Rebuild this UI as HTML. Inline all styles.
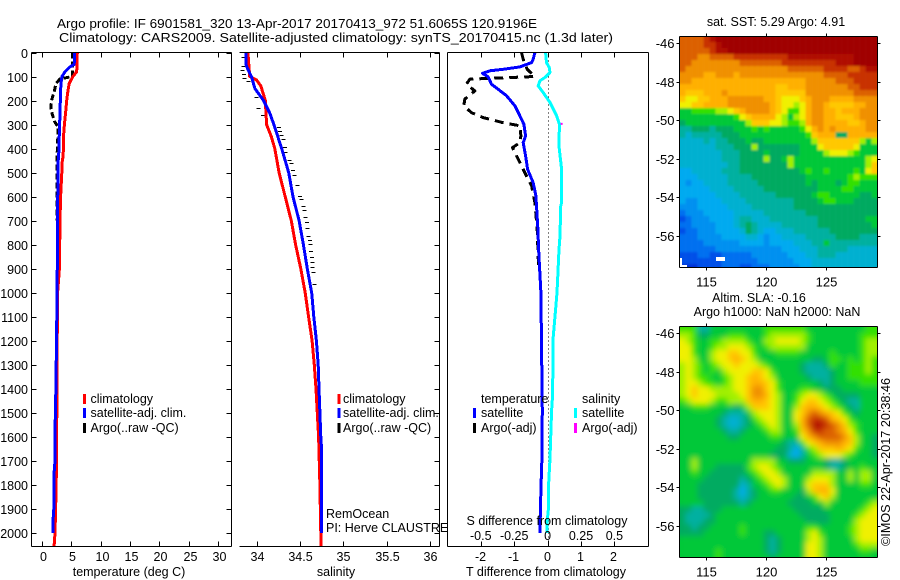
<!DOCTYPE html>
<html>
<head>
<meta charset="utf-8">
<title>Argo profile</title>
<style>
html,body{margin:0;padding:0;background:#fff;width:900px;height:580px;overflow:hidden}
svg{display:block}
text{font-family:"Liberation Sans",sans-serif;font-size:12.5px;fill:#000}
.line{fill:none;shape-rendering:crispEdges;stroke-linejoin:round}
.ax{stroke:#000;stroke-width:1;fill:none;shape-rendering:crispEdges}
</style>
</head>
<body>
<svg id="fig" xmlns="http://www.w3.org/2000/svg" width="900" height="580" viewBox="0 0 900 580">
<defs>
<clipPath id="clipMap1"><rect x="679.5" y="36" width="198" height="231"/></clipPath>
<clipPath id="clipMap2"><rect x="679.5" y="326" width="198" height="231"/></clipPath>
<clipPath id="clipT"><rect x="32" y="52" width="199" height="494"/></clipPath>
<clipPath id="clipS"><rect x="239" y="52" width="200" height="494"/></clipPath>
<clipPath id="clipD"><rect x="448" y="52" width="201" height="494"/></clipPath>
<filter id="blurSST" filterUnits="userSpaceOnUse" x="640" y="0" width="260" height="300"><feGaussianBlur stdDeviation="1"/></filter>
<filter id="blurSLA" filterUnits="userSpaceOnUse" x="640" y="290" width="260" height="290"><feGaussianBlur stdDeviation="3"/></filter>
</defs>

<text x="57" y="28" textLength="480" lengthAdjust="spacingAndGlyphs">Argo profile: IF 6901581_320 13-Apr-2017 20170413_972 51.6065S 120.9196E</text>
<text x="59" y="42" textLength="554" lengthAdjust="spacingAndGlyphs">Climatology: CARS2009. Satellite-adjusted climatology: synTS_20170415.nc (1.3d later)</text>

<g id="panelT"></g>
<g id="panelS"></g>
<g id="panelD"></g>

<text x="129" y="576" text-anchor="middle">temperature (deg C)</text>
<text x="336" y="576" text-anchor="middle">salinity</text>
<text x="546" y="576" text-anchor="middle">T difference from climatology</text>
<text x="547" y="525" text-anchor="middle">S difference from climatology</text>

<g>
<rect x="83" y="394" width="3" height="10" fill="#ff0000"/>
<rect x="83" y="408" width="3" height="10" fill="#0000ff"/>
<rect x="83" y="423" width="3" height="10" fill="#000"/>
<text x="90.5" y="403">climatology</text>
<text x="90.5" y="417">satellite-adj. clim.</text>
<text x="90.5" y="432">Argo(..raw -QC)</text>
</g>
<g>
<rect x="337.5" y="394" width="3" height="10" fill="#ff0000"/>
<rect x="337.5" y="408" width="3" height="10" fill="#0000ff"/>
<rect x="337.5" y="423" width="3" height="10" fill="#000"/>
<text x="343" y="403">climatology</text>
<text x="343" y="417">satellite-adj. clim.</text>
<text x="343" y="432">Argo(..raw -QC)</text>
<text x="326" y="518">RemOcean</text>
<text x="326" y="532">PI: Herve CLAUSTRE</text>
</g>
<g>
<text x="481" y="403">temperature</text>
<rect x="473" y="408" width="3" height="10" fill="#0000ff"/>
<rect x="473" y="423" width="3" height="10" fill="#000"/>
<text x="481" y="417">satellite</text>
<text x="481" y="432">Argo(-adj)</text>
<text x="582" y="403">salinity</text>
<rect x="574" y="408" width="3" height="10" fill="#00ffff"/>
<rect x="574" y="423" width="3" height="10" fill="#ff00ff"/>
<text x="582" y="417">satellite</text>
<text x="582" y="432">Argo(-adj)</text>
</g>

<g clip-path="url(#clipMap1)"><g id="mapSST" filter="url(#blurSST)"></g></g>
<g clip-path="url(#clipMap2)"><g id="mapSLA" filter="url(#blurSLA)"></g></g>
<g id="map1Axes"></g>
<g id="map2Axes"></g>
<rect x="716" y="257" width="9" height="4" fill="#fff"/>
<path d="M681 258V266H687" stroke="#fff" stroke-width="2" fill="none" shape-rendering="crispEdges"/>

<text x="776" y="26" text-anchor="middle">sat. SST: 5.29 Argo: 4.91</text>
<text x="759" y="302" text-anchor="middle">Altim. SLA: -0.16</text>
<text x="777" y="316" text-anchor="middle">Argo h1000: NaN h2000: NaN</text>
<text transform="translate(890,546) rotate(-90)" textLength="168" lengthAdjust="spacingAndGlyphs">©IMOS 22-Apr-2017 20:38:46</text>
</svg>

<script>
// ---- profile data ----
const depthTicks = [0,100,200,300,400,500,600,700,800,900,1000,1100,1200,1300,1400,1500,1600,1700,1800,1900,2000];
const tempTicks = [0,5,10,15,20,25,30];
const salTicks = [34,34.5,35,35.5,36];
const salTickLabels = ['34','34.5','35','35.5','36'];
const tDiffTicks = [-2,-1,0,1,2];
const sDiffTicks = [-0.5,-0.25,0,0.25,0.5];
const sDiffTickLabels = ['-0.5','-0.25','0','0.25','0.5'];

const tempClimDepth = [0,80,100,130,170,200,250,300,350,430,450,500,550,600,700,800,900,1000,1400,1500,1800,2000,2054];
const tempClimValue = [5.85,5.75,5.1,4.45,4.2,4.05,3.85,3.65,3.5,3.45,3.3,3.2,3.1,3.0,2.9,2.85,2.8,2.5,2.35,2.35,2.25,2.05,1.9];
const tempSatDepth = [0,30,50,60,80,100,130,200,270,300,400,450,500,700,1000,1400,1500,1700,1750,1900,1950,2000];
const tempSatValue = [5.4,5.4,5.3,4.6,3.75,3.25,3.05,2.95,2.9,2.8,2.75,2.6,2.55,2.5,2.4,2.2,2.1,2.05,1.9,1.85,1.7,1.7];
const tempArgoDepth = [0,50,100,105,110,130,160,200,230,260,290,310,400,450,500,700];
const tempArgoValue = [5.0,5.0,5.0,4.0,2.9,2.2,1.95,1.45,1.35,1.6,2.05,2.6,2.45,2.35,2.4,2.4];

const salClimDepth = [0,100,115,140,200,300,350,400,500,600,700,800,900,1000,1100,1200,1300,1400,1500,1600,1800,2000,2054];
const salClimValue = [33.9,33.92,34.0,34.05,34.1,34.115,34.17,34.21,34.26,34.33,34.4,34.45,34.51,34.56,34.6,34.64,34.665,34.685,34.7,34.715,34.73,34.74,34.745];
const salSatDepth = [0,50,70,100,150,200,250,300,400,500,600,700,800,900,1000,1100,1200,1300,1400,1500,1600,1650,2000];
const salSatValue = [33.877,33.877,33.9,33.94,33.98,34.08,34.15,34.2,34.29,34.37,34.42,34.49,34.54,34.585,34.635,34.66,34.69,34.71,34.72,34.73,34.74,34.75,34.75];
const salArgoDepth = [18,57,71,90,108,118,185,229,261,312,326,344,360,393,414,446,460,490,511,550,599,611,640,657,685,706,729,763,779,796,826,851,872,893,914,962];
const salArgoValue = [33.85,33.85,33.84,33.855,33.86,33.905,34.0,34.02,34.075,34.26,34.27,34.29,34.31,34.33,34.335,34.38,34.4,34.42,34.44,34.47,34.5,34.52,34.54,34.55,34.565,34.58,34.585,34.6,34.615,34.62,34.63,34.64,34.645,34.645,34.655,34.665];

const dTSatDepth = [0,28,42,60,70,76,87,101,132,153,180,222,264,299,347,375,430,486,542,597,736,819,1000,1490,1690,1821,2000];
const dTSatValue = [-0.38,-0.43,-0.48,-0.83,-1.33,-1.73,-1.95,-1.78,-1.68,-1.48,-1.23,-0.98,-0.83,-0.71,-0.66,-0.73,-0.66,-0.6,-0.43,-0.35,-0.29,-0.27,-0.2,-0.16,-0.17,-0.2,-0.23];
const dTArgoDepth = [0,28,70,100,111,132,160,194,222,250,271,292,305,347,375,396,424,458,486,520,555,625,736,900];
const dTArgoValue = [-0.78,-0.73,-0.61,-0.38,-2.33,-2.43,-2.18,-2.48,-2.51,-2.28,-1.93,-1.33,-0.83,-0.8,-0.83,-1.05,-0.95,-0.83,-0.73,-0.61,-0.48,-0.38,-0.31,-0.27];
const dSSatDepth = [0,42,62,83,104,118,139,167,208,264,299,390,486,625,640,764,819,1000,1200,1420,1490,1600,1690,1790,1900,1950,2000];
const dSSatValue = [-0.015,-0.008,0.012,0.018,-0.02,-0.058,-0.07,-0.033,0.018,0.068,0.088,0.085,0.105,0.105,0.098,0.093,0.085,0.07,0.04,0.038,0.03,0.023,0.018,0.008,0.006,-0.003,-0.003];
const dSArgoDepth = [297];
const dSArgoValue = [0.105];

// ---- map data (colour-level grid, 33 lon x 39 lat) ----
const mapTicksLon = [115,120,125];
const mapTicksLat = [46,48,50,52,54,56];
const sstGrid = [
[17,17,17,17,18,19,20,20,20,20,20,20,20,20,20,20,20,20,20,20,20,20,20,20,20,20,20,20,20,20,20,20,20],
[17,17,17,17,18,18,19,20,20,20,20,20,20,20,20,20,20,20,20,20,20,20,20,20,20,20,20,20,20,20,20,20,20],
[17,17,17,17,17,18,19,19,20,20,20,20,20,20,20,20,20,20,20,20,20,20,20,20,20,20,20,20,20,20,20,20,20],
[17,17,17,16,16,17,17,17,17,18,18,18,18,18,18,18,18,18,19,19,19,19,19,19,19,19,19,19,19,20,20,20,20],
[17,17,16,16,16,16,16,16,16,16,17,17,17,17,17,17,17,18,18,18,18,18,18,18,18,18,19,19,19,20,20,20,20],
[17,16,16,16,16,16,16,16,16,16,16,16,16,16,16,16,16,16,17,17,17,17,17,17,18,18,18,18,17,17,18,19,19],
[16,16,16,16,15,15,16,16,16,15,16,16,16,16,16,16,16,16,16,16,16,16,16,16,17,17,17,17,18,18,18,18,18],
[16,16,15,15,15,15,15,15,15,15,15,15,15,15,15,15,15,15,15,15,15,16,16,16,16,16,17,17,17,18,18,18,18],
[15,15,15,15,15,15,15,15,15,15,15,15,15,15,15,15,14,14,15,15,15,16,16,16,16,16,16,16,17,17,18,18,18],
[15,14,14,14,15,15,15,16,15,15,15,15,15,15,15,15,14,14,14,14,14,16,16,16,16,16,16,16,16,17,17,17,17],
[14,13,13,14,14,15,15,15,16,16,16,16,16,16,15,15,14,13,13,13,14,15,16,16,16,15,15,15,15,16,16,16,16],
[13,13,14,14,15,15,15,15,16,16,16,16,16,16,16,15,14,13,13,12,13,15,16,16,15,14,14,14,14,15,15,16,16],
[10,10,11,11,11,11,12,12,13,14,15,16,16,16,16,15,14,13,11,11,13,15,16,16,15,15,14,15,15,15,16,16,16],
[10,10,10,10,10,10,10,10,10,11,13,14,15,15,15,15,13,12,10,12,13,15,16,16,15,15,14,14,14,15,16,16,16],
[9,10,10,10,10,10,10,10,10,10,10,12,14,14,14,13,13,12,11,11,12,15,16,16,15,15,15,15,14,14,15,16,16],
[8,8,9,9,9,8,9,9,9,10,10,10,11,10,11,10,10,10,10,10,11,13,15,16,15,16,15,15,15,15,15,16,16],
[8,7,8,8,8,8,8,9,9,9,10,10,10,10,10,10,10,10,10,10,10,11,14,15,15,15,9,9,15,15,15,15,15],
[7,7,7,7,8,7,8,8,9,9,9,10,9,9,10,10,10,10,10,10,10,10,12,14,14,14,14,14,14,14,12,10,12],
[7,7,7,7,7,7,8,8,8,9,9,9,12,9,9,9,9,9,9,9,10,10,10,13,14,14,14,14,14,13,10,10,10],
[7,7,7,7,7,7,7,8,8,8,9,9,9,9,10,9,9,9,9,9,10,10,10,10,12,13,13,13,12,11,10,10,10],
[7,7,7,7,7,7,7,8,8,8,9,9,9,9,12,9,9,10,12,10,10,10,10,10,10,10,10,10,10,10,10,12,13],
[7,7,7,7,7,7,7,7,8,8,9,9,9,9,9,9,9,9,12,10,10,10,10,10,10,10,10,10,10,10,10,12,14],
[6,6,7,7,7,7,7,8,8,8,9,9,9,9,9,9,9,9,9,9,10,11,10,10,11,10,10,10,10,11,10,13,14],
[6,6,6,7,7,7,7,7,8,8,8,8,9,9,9,9,9,9,9,9,9,10,10,10,10,10,10,10,11,12,11,11,11],
[6,5,6,6,7,7,7,7,8,8,8,8,8,9,9,9,9,9,9,9,9,10,9,10,10,10,9,10,11,11,10,10,10],
[6,6,6,6,6,7,7,7,7,8,8,8,8,8,9,9,9,9,9,9,9,9,9,10,10,10,10,11,11,10,10,10,10],
[6,6,6,6,6,6,7,7,7,7,8,8,8,8,8,8,9,9,9,9,9,9,10,11,11,10,10,10,10,10,9,9,10],
[6,5,5,6,6,6,6,7,7,7,7,8,8,8,8,8,8,8,8,9,9,9,9,10,11,11,10,10,10,9,9,9,9],
[5,5,5,6,6,6,6,6,7,7,7,7,8,8,8,8,8,8,8,9,9,9,9,9,9,9,9,9,9,9,9,9,9],
[4,5,5,5,6,6,6,6,6,7,7,7,7,7,8,8,8,8,8,8,8,9,9,9,9,9,9,9,9,9,9,9,9],
[3,4,5,5,5,6,6,6,6,7,8,8,7,7,7,8,8,8,8,8,8,8,8,9,9,9,9,9,9,9,9,10,10],
[4,4,5,5,5,5,6,6,6,7,8,9,8,7,7,7,7,8,8,8,8,8,8,9,9,9,9,9,9,9,9,9,10],
[3,4,4,5,5,5,6,6,6,6,7,9,8,7,6,6,7,7,7,8,8,8,8,8,8,9,9,9,9,9,9,9,9],
[4,4,4,5,5,5,5,6,6,6,6,7,7,6,5,6,6,7,7,7,7,8,8,8,8,8,9,9,9,9,8,8,8],
[4,4,4,4,5,5,5,5,5,5,6,6,6,6,5,6,6,6,6,7,7,7,8,8,10,8,8,8,8,8,8,8,8],
[4,4,4,4,4,4,5,5,5,5,5,5,5,5,5,5,5,6,6,6,7,7,7,8,8,8,8,8,7,7,7,7,7],
[3,3,3,4,4,3,3,4,4,4,4,4,5,5,5,5,5,5,6,6,6,7,7,8,8,8,7,7,7,7,7,7,7],
[3,3,3,3,3,3,3,4,4,4,4,4,4,5,5,5,5,5,5,6,6,6,7,7,7,7,7,7,7,7,7,7,7],
[2,2,2,3,3,3,3,4,4,4,3,3,4,4,4,5,5,5,5,5,6,6,7,7,7,7,7,7,7,7,7,7,7]
];
const slaGrid = [
[11,11,11,8,8,10,10,10,10,10,10,10,10,10,11,11,11,11,11,11,11,10,10,10,10,10,10,10,10,10,10,11,11],
[12,12,11,9,9,10,10,10,11,11,11,10,10,10,11,12,12,12,12,12,12,11,10,10,10,10,10,10,10,10,11,11,11],
[13,12,11,10,10,11,11,12,12,12,12,11,10,10,12,12,13,13,13,13,12,11,10,10,10,10,10,10,10,10,11,12,12],
[13,13,11,10,10,11,12,12,13,13,13,12,11,10,11,12,12,12,12,12,12,10,10,10,10,10,10,10,10,10,11,12,12],
[13,13,11,10,10,12,13,13,14,14,13,13,11,10,10,10,11,11,11,11,10,10,10,10,10,11,10,10,10,10,11,12,12],
[13,13,12,10,10,12,13,13,14,15,14,13,12,10,10,10,10,10,10,10,10,10,9,9,10,11,11,10,11,10,11,12,11],
[12,13,12,11,10,11,12,13,13,14,13,13,13,12,11,10,10,10,10,10,9,8,8,8,9,11,10,10,11,11,11,12,11],
[12,13,12,11,10,11,10,12,13,13,13,13,14,14,13,11,10,10,10,10,9,8,8,8,8,9,10,10,11,11,11,12,11],
[12,13,12,11,11,10,10,11,12,13,13,14,15,14,13,12,10,10,10,10,10,9,8,8,8,9,10,10,11,11,11,11,11],
[12,13,13,12,11,11,10,11,12,13,13,14,15,15,14,13,11,10,10,10,10,10,10,9,8,9,10,10,10,10,11,11,11],
[12,13,14,13,13,12,12,12,12,13,13,14,16,16,14,13,11,10,10,10,11,11,10,10,9,9,9,10,10,10,10,10,10],
[12,13,14,13,13,13,12,12,12,12,13,14,16,16,15,13,12,10,10,11,12,13,13,12,11,10,9,9,9,9,10,10,10],
[11,12,13,13,13,12,11,11,12,12,12,14,15,15,14,13,12,10,10,11,13,14,14,13,12,11,10,9,8,8,10,10,10],
[10,10,11,11,11,10,10,10,10,9,10,12,14,14,14,13,12,10,10,12,14,15,15,14,13,12,11,10,9,8,10,10,10],
[10,10,10,10,10,10,10,9,8,8,8,10,12,13,13,13,12,10,10,13,14,16,17,16,15,14,13,11,10,9,10,10,10],
[10,10,10,10,10,10,9,8,7,7,8,9,11,12,13,13,12,10,10,13,15,17,18,18,17,15,14,13,11,10,10,10,10],
[10,10,10,10,10,10,9,8,7,7,8,9,10,11,12,13,12,10,10,12,15,17,19,19,18,17,16,14,12,11,10,10,10],
[10,10,10,10,10,10,10,9,8,8,9,10,10,10,11,12,12,10,10,11,14,16,18,18,17,17,16,15,13,11,10,10,10],
[10,10,10,10,10,10,10,10,9,9,10,10,10,10,10,11,11,10,10,10,13,15,16,17,17,17,17,16,14,12,10,10,9],
[10,10,10,10,10,10,10,10,10,10,10,10,10,10,10,10,10,9,8,8,11,13,14,15,16,16,16,15,14,12,10,10,9],
[10,10,10,10,10,10,10,10,10,10,10,10,10,10,10,10,9,9,8,6,8,11,12,14,14,14,15,14,13,11,10,10,9],
[10,10,10,10,10,10,10,10,10,10,10,10,10,10,10,9,9,9,7,6,8,10,11,12,13,13,13,12,11,10,10,10,9],
[10,10,12,10,10,10,10,10,10,10,10,10,12,12,12,12,10,10,9,9,9,10,10,10,9,8,8,9,10,10,10,10,10],
[10,10,12,10,10,10,9,9,9,9,9,11,12,13,13,12,11,10,10,10,10,10,10,10,9,8,8,9,10,10,11,10,10],
[10,10,11,10,10,9,9,9,9,9,9,10,11,12,13,13,12,10,10,10,10,10,12,12,12,12,10,10,12,10,12,12,10],
[10,10,10,10,9,9,9,9,9,9,8,9,10,11,12,13,13,12,10,10,10,12,13,13,13,12,10,10,12,10,12,12,10],
[10,10,10,9,9,9,9,9,9,9,7,8,10,10,11,12,13,12,10,10,10,13,14,14,14,12,10,10,10,10,11,11,10],
[10,10,10,9,9,9,9,9,9,8,6,8,9,10,10,11,11,10,10,10,9,12,14,15,15,13,10,10,10,10,10,10,10],
[10,10,10,9,9,9,9,9,9,8,7,8,9,10,10,10,10,10,10,9,9,10,11,13,14,12,10,10,10,10,10,10,10],
[10,10,10,10,9,9,9,9,9,9,8,9,10,10,10,10,10,10,9,9,9,9,10,10,12,10,10,10,10,10,10,11,12],
[9,9,8,8,9,9,9,10,10,10,10,10,10,10,10,10,10,10,10,9,9,9,9,9,10,10,10,10,10,10,11,12,13],
[9,8,8,8,8,9,10,10,10,10,10,10,10,10,10,10,10,10,10,10,9,9,9,9,9,10,10,10,10,11,12,13,13],
[9,8,8,8,9,9,10,10,10,10,10,10,10,10,10,10,10,10,10,10,10,9,9,9,9,10,10,10,10,12,13,13,13],
[9,9,8,9,9,10,10,10,10,10,11,10,10,10,10,10,10,10,10,10,10,11,11,10,10,10,10,10,11,12,13,13,13],
[9,9,9,9,10,10,10,10,10,10,11,10,10,10,9,9,10,10,10,10,10,12,13,11,10,10,10,10,11,12,13,13,13],
[10,10,10,10,10,10,10,10,10,10,10,10,10,10,9,8,9,10,10,10,10,12,13,12,10,10,10,10,10,12,13,13,13],
[10,10,10,10,10,10,10,10,10,10,10,10,10,10,9,8,9,10,10,10,10,13,13,12,10,10,10,10,10,11,12,12,12],
[10,10,10,10,10,10,11,10,10,10,10,10,10,10,9,8,9,10,10,10,10,13,13,12,10,10,10,10,10,10,11,11,10],
[10,10,10,10,10,10,11,10,10,10,10,10,10,10,10,9,10,10,10,10,10,13,13,12,10,10,10,10,10,10,10,10,10]
];
const levelColors = ['#00008c','#001cb4','#0030d8','#0050e8','#0070f0','#0090f0','#00aaf0','#00b0d0','#00b0a0','#00aa60','#00c838','#30e000','#a0f000','#f0f000','#ffc800','#ffb000','#f09000','#dc6000','#c83000','#b01000','#a00000'];

const NS = 'http://www.w3.org/2000/svg';

// axis functions
const yDepth = d => 52.5 + d * 0.24025;
const xTemp = t => 43 + t * 5.86;
const xSal = s => 256.6 + (s - 34) * 86.7;
const xTD = v => 547.6 + v * 33.4;
const xSD = v => 547.6 + v * 133.6;
const xLon = lon => 706.3 + (lon - 115) * 12;
const yLat1 = lat => 43 + (lat - 46) * 19.3;
const yLat2 = lat => 333 + (lat - 46) * 19.25;

function mk(tag, parent, attrs) {
  const el = document.createElementNS(NS, tag);
  for (const k in attrs) el.setAttribute(k, attrs[k]);
  parent.appendChild(el);
  return el;
}

function seg(parent, x1, y1, x2, y2, name) {
  const el = mk('line', parent, {x1: x1, y1: y1, x2: x2, y2: y2, class: 'ax'});
  
  
  return el;
}

function label(parent, x, y, str, anchor, name) {
  const el = mk('text', parent, {x: x, y: y, 'text-anchor': anchor});
  el.textContent = str;
  
  
  return el;
}

function curve(parent, depths, values, xf, color, width, dash, clip, name) {
  const pts = depths.map((d, i) => xf(values[i]).toFixed(1) + ',' + yDepth(d).toFixed(1)).join(' ');
  const attrs = {points: pts, class: 'line', stroke: color, 'stroke-width': width, 'clip-path': 'url(#' + clip + ')'};
  if (dash) attrs['stroke-dasharray'] = dash;
  const el = mk('polyline', parent, attrs);
  
  
  return el;
}

function frame(parent, L, R, T, B, hasLeft, name) {
  seg(parent, L, T, R, T, name + '-top-axis');
  seg(parent, L, B, R, B, name + '-bottom-axis');
  seg(parent, R, T, R, B, name + '-right-axis');
  if (hasLeft) seg(parent, L, T, L, B, name + '-left-axis');
}

const T = 52.5, B = 546.5;

// Temperature panel
const pT = document.getElementById('panelT');
curve(pT, tempArgoDepth, tempArgoValue, xTemp, '#000', 3, '6 3', 'clipT', 'series-temperature-argo');
curve(pT, tempClimDepth, tempClimValue, xTemp, '#ff0000', 3, null, 'clipT', 'series-temperature-climatology');
curve(pT, tempSatDepth, tempSatValue, xTemp, '#0000ff', 3, null, 'clipT', 'series-temperature-satellite');
frame(pT, 31.5, 231.5, T, B, true, 'temperature');
depthTicks.forEach(d => {
  const y = Math.round(yDepth(d)) + 0.5;
  seg(pT, 31.5, y, 36.5, y, 'depth-tick');
  seg(pT, 226.5, y, 231.5, y, 'depth-tick-right');
  label(pT, 28, y + 4.5, String(d), 'end', 'depth-tick-label');
});
tempTicks.forEach(t => {
  const x = Math.round(xTemp(t)) - 0.5;
  seg(pT, x, B, x, B - 5, 'temperature-tick');
  seg(pT, x, T, x, T + 5, 'temperature-tick-top');
  label(pT, x + 1, 561, String(t), 'middle', 'temperature-tick-label');
});

// Salinity panel
const pS = document.getElementById('panelS');
salArgoDepth.forEach((d, i) => {
  const dash = mk('rect', pS, {x: (xSal(salArgoValue[i]) - 2).toFixed(1), y: Math.round(yDepth(d)), width: 4, height: 1, fill: '#000', 'shape-rendering': 'crispEdges'});
  
  
});
curve(pS, salClimDepth, salClimValue, xSal, '#ff0000', 3, null, 'clipS', 'series-salinity-climatology');
curve(pS, salSatDepth, salSatValue, xSal, '#0000ff', 3, null, 'clipS', 'series-salinity-satellite');
frame(pS, 239.5, 439.5, T, B, false, 'salinity');
depthTicks.forEach(d => {
  const y = Math.round(yDepth(d)) + 0.5;
  seg(pS, 434.5, y, 439.5, y, 'salinity-depth-tick-right');
});
salTicks.forEach((s, i) => {
  const x = Math.round(xSal(s)) + 0.5;
  seg(pS, x, B, x, B - 5, 'salinity-tick');
  seg(pS, x, T, x, T + 5, 'salinity-tick-top');
  label(pS, x, 561, salTickLabels[i], 'middle', 'salinity-tick-label');
});

// Difference panel
const pD = document.getElementById('panelD');
const zero = Math.round(xTD(0)) + 0.5;
const zeroLine = mk('line', pD, {x1: zero, y1: T, x2: zero, y2: B, stroke: '#000', 'stroke-width': 1, 'stroke-dasharray': '1 3', 'shape-rendering': 'crispEdges'});


curve(pD, dTArgoDepth, dTArgoValue, xTD, '#000', 3, '9 6', 'clipD', 'series-t-difference-argo');
curve(pD, dTSatDepth, dTSatValue, xTD, '#0000ff', 3, null, 'clipD', 'series-t-difference-satellite');
curve(pD, dSSatDepth, dSSatValue, xSD, '#00ffff', 3, null, 'clipD', 'series-s-difference-satellite');
dSArgoDepth.forEach((d, i) => {
  const dot = mk('rect', pD, {x: xSD(dSArgoValue[i]) - 1, y: yDepth(d) - 1, width: 2, height: 2, fill: '#ff00ff'});
  
  
});
frame(pD, 447.5, 648.5, T, B, true, 'difference');
tDiffTicks.forEach(v => {
  const x = Math.round(xTD(v)) + 0.5;
  seg(pD, x, B, x, B - 5, 't-difference-tick');
  seg(pD, x, T, x, T + 5, 't-difference-tick-top');
  label(pD, x - 1, 561, String(v), 'middle', 't-difference-tick-label');
});
sDiffTicks.forEach((v, i) => {
  label(pD, xSD(v), 540, sDiffTickLabels[i], 'middle', 's-difference-tick-label');
});

// Heatmaps: every cell positioned through the map axis functions
function heatmap(host, grid, top, cellName) {
  const lonStep = 1.5 / 3;
  const cellH = 6;
  grid.forEach((row, j) => {
    row.forEach((v, i) => {
      const x0 = xLon(112.77 + i * lonStep);
      const y0 = top + j * cellH;
      const left = i === 0 ? x0 - 14 : x0;
      const right = i === row.length - 1 ? x0 + 6 + 14 : x0 + 6.2;
      const topY = j === 0 ? y0 - 14 : y0;
      const botY = j === grid.length - 1 ? y0 + cellH + 14 : y0 + cellH + 0.2;
      const lvl = Math.max(0, Math.min(levelColors.length - 1, Math.round(v)));
      const r = mk('rect', host, {x: left.toFixed(2), y: topY.toFixed(2), width: (right - left).toFixed(2), height: (botY - topY).toFixed(2), fill: levelColors[lvl]});
      
      
    });
  });
}
heatmap(document.getElementById('mapSST'), sstGrid, 36, 'sst-cell');
heatmap(document.getElementById('mapSLA'), slaGrid, 326, 'sla-cell');

// Map axes
function mapAxes(host, top, bottom, yLat, name) {
  const L = 679.5, R = 877.5;
  frame(host, L, R, top, bottom, true, name);
  mapTicksLon.forEach(lon => {
    const x = Math.round(xLon(lon)) + 0.5;
    seg(host, x, top, x, top - 3, name + '-lon-tick-top');
    seg(host, x, bottom, x, bottom + 3, name + '-lon-tick');
    label(host, x, bottom + 19, String(lon), 'middle', name + '-lon-label').setAttribute('style', 'font-size:13px');
  });
  mapTicksLat.forEach(lat => {
    const y = Math.round(yLat(lat)) + 0.5;
    seg(host, L, y, L - 3, y, name + '-lat-tick');
    seg(host, R, y, R + 3, y, name + '-lat-tick-right');
    label(host, 674.5, y + 4.5, '-' + lat, 'end', name + '-lat-label').setAttribute('style', 'font-size:13px');
  });
}
mapAxes(document.getElementById('map1Axes'), 36.5, 267.5, yLat1, 'sst-map');
mapAxes(document.getElementById('map2Axes'), 326.5, 557.5, yLat2, 'sla-map');
</script>
</body>
</html>
